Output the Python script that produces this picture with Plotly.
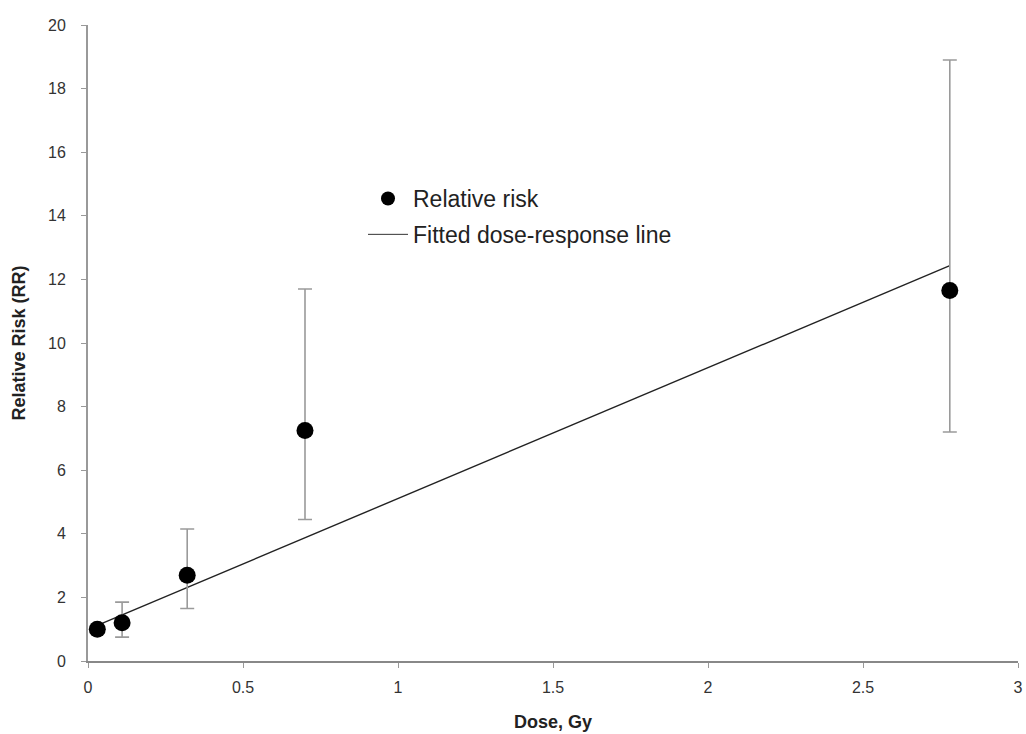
import plotly.graph_objects as go

dose = [0.03, 0.11, 0.32, 0.70, 2.78]
rr = [1.0, 1.2, 2.7, 7.25, 11.65]
rr_upper = [1.0, 1.85, 4.15, 11.7, 18.9]
rr_lower = [1.0, 0.75, 1.65, 4.45, 7.2]

fit_dose = [0.03, 2.78]
fit_rr = [1.12, 12.43]

x_ticks = [0, 0.5, 1, 1.5, 2, 2.5, 3]
x_tick_labels = ["0", "0.5", "1", "1.5", "2", "2.5", "3"]
y_ticks = [0, 2, 4, 6, 8, 10, 12, 14, 16, 18, 20]

err_plus = [u - r for u, r in zip(rr_upper, rr)]
err_minus = [r - l for r, l in zip(rr, rr_lower)]

fig = go.Figure()
fig.add_trace(go.Scatter(
    x=fit_dose, y=fit_rr, mode="lines", showlegend=False,
    line=dict(color="#222222", width=1.4),
))
fig.add_trace(go.Scatter(
    x=dose, y=rr, mode="markers", showlegend=False,
    marker=dict(color="black", size=17, symbol="circle"),
    error_y=dict(type="data", symmetric=False, array=err_plus, arrayminus=err_minus,
                 color="#9a9a9a", thickness=1.6, width=7),
))
# legend entries
fig.add_trace(go.Scatter(
    x=[None], y=[None], mode="markers", name="Relative risk",
    marker=dict(color="black", size=14), legendgroup="a", legendrank=1,
))
fig.add_trace(go.Scatter(
    x=[None], y=[None], mode="lines", name="Fitted dose-response line",
    line=dict(color="#333333", width=1), legendgroup="b", legendrank=2,
))

tick_font = dict(family="Liberation Sans, Arial, sans-serif", size=16, color="#333333")
fig.update_layout(
    width=1026, height=734,
    margin=dict(l=88, r=8, t=25, b=73),
    paper_bgcolor="white", plot_bgcolor="white",
    font=dict(family="Liberation Sans, Arial, sans-serif", color="#222222"),
    showlegend=True,
    legend=dict(x=0.2957, y=0.761, xanchor="left", yanchor="top",
                font=dict(size=23, color="#222222"), itemwidth=40,
                tracegroupgap=3, bgcolor="rgba(0,0,0,0)"),
    xaxis=dict(range=[0, 3], tickvals=x_ticks, ticktext=x_tick_labels,
               showgrid=False, zeroline=False, showline=True, linecolor="#888888",
               linewidth=2, ticks="outside", ticklen=5, tickcolor="#999999",
               tickfont=tick_font, automargin=False, ticklabelstandoff=6,
               title=dict(text="<b>Dose, Gy</b>", font=dict(size=18, color="#222222"), standoff=20)),
    yaxis=dict(range=[0, 20], tickvals=y_ticks,
               showgrid=False, zeroline=False, showline=True, linecolor="#999999",
               linewidth=2, ticks="outside", ticklen=5, tickcolor="#999999",
               tickfont=tick_font, automargin=False, ticklabelstandoff=12,
               title=dict(text="<b>Relative Risk (RR)</b>", font=dict(size=18, color="#222222"), standoff=18)),
)

fig.write_html("out.html")
